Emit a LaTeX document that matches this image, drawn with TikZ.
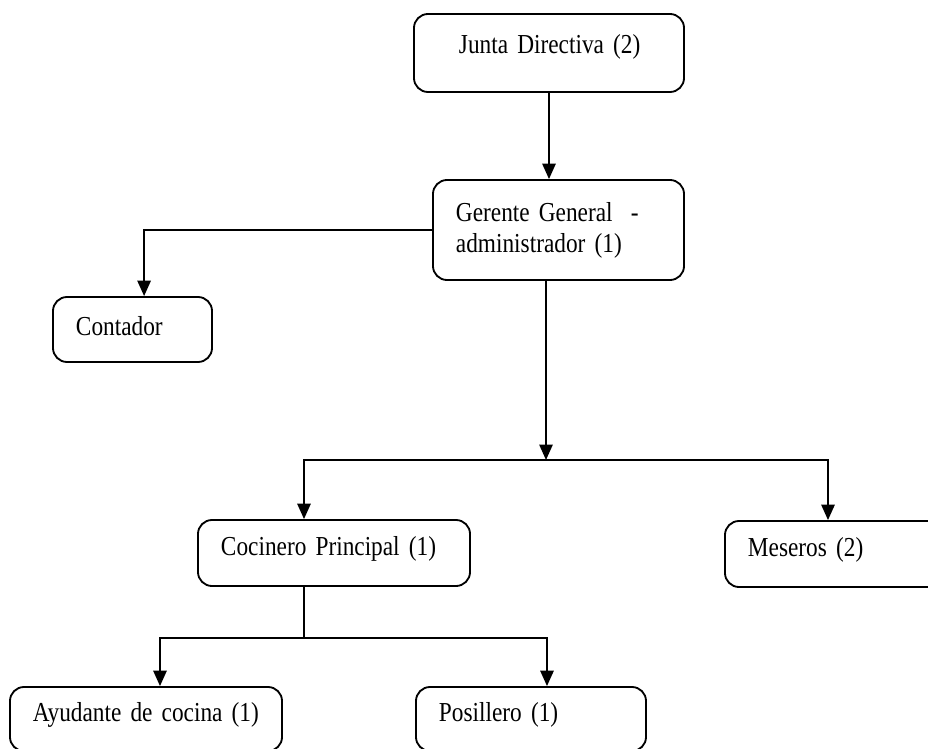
\documentclass[tikz,border=0pt]{standalone}
\usepackage{fontspec}
\setmainfont[FakeStretch=0.85]{Liberation Serif}
\usetikzlibrary{arrows.meta}
\newcommand{\cajafont}{\fontsize{19.5}{22}\selectfont}
\tikzset{caja/.style={draw,rounded corners=10pt,line width=1.3pt,inner xsep=0.575cm,inner ysep=2pt,align=left,font=\cajafont},
  una/.style={text height=12pt,text depth=#1}}

\begin{document}
\begin{tikzpicture}[x=0.025cm,y=-0.025cm,line width=1.3pt,>={Triangle[length=11pt,width=9.5pt]}]
          \useasboundingbox (0,0) rectangle (928,749);
          \node[caja,una=11.4pt,text width=5.6cm,minimum height=1.95cm] (junta) at (549,53) {\hspace*{0.55cm}Junta Directiva~(2)}; %
          \node[caja,text width=5.125cm,minimum height=2.5cm] (gerente) at (558.5,230) {Gerente General~ -\\administrador~(1)}; %
          \node[caja,una=3.6pt,text width=2.825cm,minimum height=1.625cm] (contador) at (132.5,329.5) {Contador};
          \node[caja,una=8.6pt,text width=5.65cm,minimum height=1.65cm] (cocinero) at (334,553) {Cocinero~Principal~(1)};
          \node[caja,una=8.6pt,text width=5.35cm,minimum height=1.65cm] (meseros) at (855,554) {Meseros~(2)};
          \node[caja,una=8.6pt,text width=5.65cm,minimum height=1.6cm] (ayudante) at (146,719) {Ayudante~de~cocina~(1)}; %
          \node[caja,una=8.6pt,text width=4.6cm,minimum height=1.6cm] (posillero) at (531,719) {Posillero~(1)}; %
          \coordinate (s1) at (546,460);
          \coordinate (c1) at (304,460);
          \coordinate (m1) at (828,460);
          \coordinate (s2) at (304,638);
          \coordinate (a1) at (160,638);
          \coordinate (p1) at (547,638);
          \draw[->] (junta.south) -- (junta.south |- gerente.north);
          \draw[->] (gerente.west) -| ([xshift=0.29cm]contador.north);
          \draw[->] (gerente.south -| s1) -- (s1);
          \draw[<->] (c1 |- cocinero.north) -- (c1) -- (m1) -- (m1 |- meseros.north);
          \draw (cocinero.south -| s2) -- (s2);
          \draw[<->] (a1 |- ayudante.north) -- (a1) -- (p1) -- (p1 |- posillero.north);
        \end{tikzpicture}
\end{document}
